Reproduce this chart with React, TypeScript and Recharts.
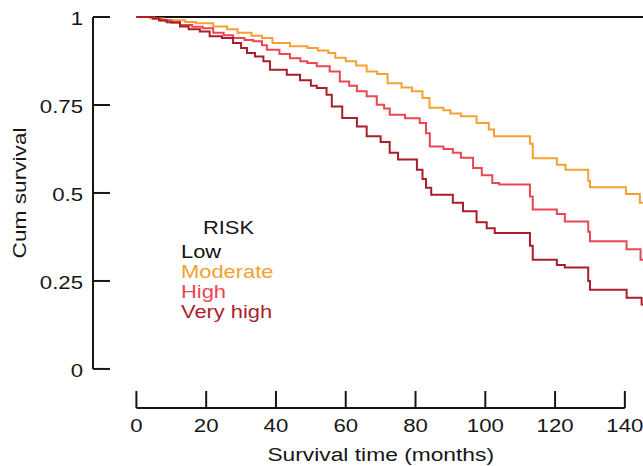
import { LineChart, Line, XAxis, YAxis, ReferenceLine, Legend } from 'recharts';

const FONT = '"Liberation Sans", Arial, Helvetica, sans-serif';
const INK = '#161616';

const riskLevels = ['Low', 'Moderate', 'High', 'Very high'];

const lowTimes = [0, 145.2];
const lowSurv = [1, 1];

const moderateTimes = [0, 4, 8, 14, 17, 22, 26, 29, 33, 36, 39, 44, 49, 52, 55, 57, 60, 63, 66, 69, 72, 76, 79, 82, 84, 88, 90, 93, 97.5, 101, 102.5, 112.8, 113.6, 120.5, 123, 129.5, 130, 140.3, 144.3, 145.2];
const moderateSurv = [1, 0.996, 0.991, 0.986, 0.982, 0.973, 0.965, 0.955, 0.947, 0.94, 0.926, 0.917, 0.912, 0.905, 0.898, 0.884, 0.874, 0.862, 0.845, 0.838, 0.812, 0.8, 0.789, 0.77, 0.742, 0.735, 0.726, 0.718, 0.699, 0.68, 0.661, 0.64, 0.599, 0.58, 0.566, 0.535, 0.516, 0.497, 0.472, 0.472];

const highTimes = [0, 5, 7, 10, 12.5, 16, 19, 22, 25, 27.7, 31, 33.5, 36, 37.4, 41, 44, 47, 49, 51.7, 55.4, 58.3, 61, 63.2, 66, 68.9, 71, 72.6, 77, 81.2, 83, 84.1, 88, 90.7, 93, 96.5, 99, 102, 104, 112.8, 113.6, 120.5, 122.8, 129.5, 130, 140.5, 144.5, 145.2];
const highSurv = [1, 0.996, 0.991, 0.984, 0.977, 0.972, 0.968, 0.955, 0.948, 0.94, 0.935, 0.931, 0.92, 0.907, 0.895, 0.883, 0.874, 0.869, 0.86, 0.845, 0.817, 0.805, 0.789, 0.775, 0.751, 0.74, 0.722, 0.712, 0.699, 0.67, 0.632, 0.625, 0.614, 0.6, 0.571, 0.55, 0.528, 0.524, 0.49, 0.453, 0.44, 0.419, 0.39, 0.3625, 0.34, 0.31, 0.31];

const veryHighTimes = [0, 4.7, 6.5, 8.7, 12.5, 15, 18.2, 21, 24.5, 27.7, 30, 31.7, 34, 36.4, 38.3, 43.1, 46.9, 50, 51.7, 54.5, 56, 59, 63.2, 66, 70, 72.6, 75, 80.4, 82, 83, 84.5, 90.7, 93.6, 97.5, 100.4, 102.7, 112.8, 113.6, 120.5, 122.8, 129.5, 130, 140.5, 144.8, 145.2];
const veryHighSurv = [1, 0.996, 0.99, 0.985, 0.973, 0.965, 0.959, 0.945, 0.94, 0.926, 0.912, 0.898, 0.888, 0.874, 0.85, 0.836, 0.82, 0.805, 0.798, 0.779, 0.746, 0.713, 0.689, 0.661, 0.645, 0.614, 0.595, 0.566, 0.54, 0.515, 0.495, 0.472, 0.448, 0.4165, 0.4, 0.386, 0.35, 0.31, 0.295, 0.288, 0.25, 0.225, 0.202, 0.183, 0.183];

const xTicks = [0, 20, 40, 60, 80, 100, 120, 140];
const yTicks = [0, 0.25, 0.5, 0.75, 1];

const X_MIN = -12.44;
const X_MAX = 145.16;
const Y_MIN = -0.111;
const Y_MAX = 1;

const toSteps = (times: number[], surv: number[]) => times.map((t, i) => ({ t, s: surv[i] }));

const XTick = ({ x, y, payload }: any) => (
  <g>
    <line x1={x} y1={y} x2={x} y2={y - 17} stroke={INK} strokeWidth={2} />
    <text
      transform={`translate(${x},${y + 23.5}) scale(1.2,1)`}
      textAnchor="middle"
      fontSize={18.5}
      fontFamily={FONT}
      fill={INK}
    >
      {payload.value}
    </text>
  </g>
);

const YTick = ({ x, y, payload }: any) => (
  <g>
    <line x1={x} y1={y} x2={x + 17} y2={y} stroke={INK} strokeWidth={2} />
    <text
      transform={`translate(${x - 10},${y + 8}) scale(1.2,1)`}
      textAnchor="end"
      fontSize={18.5}
      fontFamily={FONT}
      fill={INK}
    >
      {payload.value}
    </text>
  </g>
);

const XTitle = (props: any) => {
  const vb = props.viewBox || { x: 93, y: 408, width: 550, height: 58 };
  const cx = vb.x + ((70 - X_MIN) / (X_MAX - X_MIN)) * vb.width;
  return (
    <text
      transform={`translate(${cx},${vb.y + 53}) scale(1.2,1)`}
      textAnchor="middle"
      fontSize={19}
      fontFamily={FONT}
      fill={INK}
    >
      Survival time (months)
    </text>
  );
};

const YTitle = (props: any) => {
  const vb = props.viewBox || { x: 0, y: 17, width: 93, height: 391 };
  const cy = vb.y + ((Y_MAX - 0.5) / (Y_MAX - Y_MIN)) * vb.height;
  return (
    <text
      transform={`translate(26,${cy}) rotate(-90) scale(1.26,1)`}
      textAnchor="middle"
      fontSize={18}
      fontFamily={FONT}
      fill={INK}
    >
      Cum survival
    </text>
  );
};

const RiskLegend = ({ payload }: any) => {
  const items = [...(payload || [])].sort(
    (a: any, b: any) => riskLevels.indexOf(a.value) - riskLevels.indexOf(b.value)
  );
  return (
    <div
      style={{
        fontFamily: FONT,
        fontSize: 17.5,
        lineHeight: '20px',
        transform: 'scaleX(1.25)',
        transformOrigin: 'left top',
        whiteSpace: 'nowrap',
      }}
    >
      <div style={{ marginLeft: 17.6, marginBottom: 4, color: INK }}>RISK</div>
      {items.map((entry: any) => (
        <div key={entry.value} style={{ color: entry.color }}>
          {entry.value}
        </div>
      ))}
    </div>
  );
};

export default function App() {
  return (
    <div style={{ position: 'absolute', left: 0, top: 0, width: 643, height: 466, background: '#fff' }}>
      <LineChart width={643} height={466} margin={{ top: 17, right: 0, bottom: 0, left: 0 }}>
        <XAxis
          type="number"
          dataKey="t"
          domain={[X_MIN, X_MAX]}
          ticks={xTicks}
          interval={0}
          height={58}
          axisLine={false}
          tickLine={false}
          tickSize={0}
          tickMargin={0}
          tick={<XTick />}
          label={XTitle}
        />
        <YAxis
          type="number"
          domain={[Y_MIN, Y_MAX]}
          ticks={yTicks}
          interval={0}
          width={93}
          axisLine={false}
          tickLine={false}
          tickSize={0}
          tickMargin={0}
          tick={<YTick />}
          label={YTitle}
        />
        <ReferenceLine segment={[{ x: X_MIN, y: 0 }, { x: X_MIN, y: 1 }]} stroke={INK} strokeWidth={2} />
        <ReferenceLine segment={[{ x: 0, y: Y_MIN }, { x: 140, y: Y_MIN }]} stroke={INK} strokeWidth={2} />
        <Legend
          layout="vertical"
          align="center"
          verticalAlign="middle"
          content={<RiskLegend />}
          wrapperStyle={{ left: 181, top: 218, width: 150, height: 'auto' }}
        />
        <Line data={toSteps(lowTimes, lowSurv)} dataKey="s" name="Low" type="stepAfter" stroke="#111111" strokeWidth={2} dot={false} activeDot={false} isAnimationActive={false} />
        <Line data={toSteps(moderateTimes, moderateSurv)} dataKey="s" name="Moderate" type="stepAfter" stroke="#F5A033" strokeWidth={2} dot={false} activeDot={false} isAnimationActive={false} />
        <Line data={toSteps(highTimes, highSurv)} dataKey="s" name="High" type="stepAfter" stroke="#EB4653" strokeWidth={2} dot={false} activeDot={false} isAnimationActive={false} />
        <Line data={toSteps(veryHighTimes, veryHighSurv)} dataKey="s" name="Very high" type="stepAfter" stroke="#A81E2B" strokeWidth={2} dot={false} activeDot={false} isAnimationActive={false} />
      </LineChart>
    </div>
  );
}
